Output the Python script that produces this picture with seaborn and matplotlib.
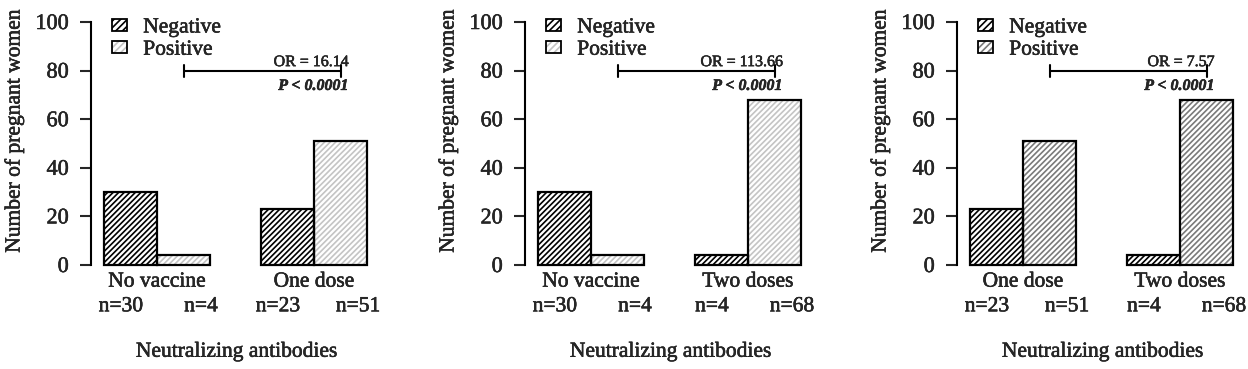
import matplotlib
matplotlib.use("Agg")
import matplotlib.pyplot as plt
import matplotlib.patheffects as pe
from matplotlib.patches import Rectangle, Patch
from matplotlib.text import Text
import seaborn as sns
import pandas as pd

# ---------------------------------------------------------------------------
# DATA
# ---------------------------------------------------------------------------
groups = [
    ["No vaccine", "One dose"],
    ["No vaccine", "Two doses"],
    ["One dose", "Two doses"],
]
negative = [[30, 23], [30, 4], [23, 4]]
positive = [[4, 51], [4, 68], [51, 68]]
odds_ratios = ["OR = 16.14", "OR = 113.66", "OR = 7.57"]
p_text = "P < 0.0001"
bracket_y = 80
statuses = ["Negative", "Positive"]
yticks = [0, 20, 40, 60, 80, 100]

# hatch colours (panel 3 positive bars are darker than in panels 1 and 2)
neg_hatch = ["black", "black", "black"]
pos_hatch = ["#c4c4c4", "#c4c4c4", "#7a7a7a"]

sns.set_style("white")
plt.rcParams["font.family"] = ["Liberation Serif", "DejaVu Serif"]
plt.rcParams["hatch.linewidth"] = 1.2

fig = plt.figure(figsize=(12.48, 3.69), dpi=100)
lefts = [91, 525, 957]
unit = 157.0
xmin, xmax = -0.42, 1.55
hatch = "//////"

for i in range(3):
    df = pd.DataFrame({
        "group": groups[i] * 2,
        "status": [statuses[0]] * 2 + [statuses[1]] * 2,
        "count": negative[i] + positive[i],
    })
    w = (xmax - xmin) * unit / 1248
    ax = fig.add_axes([lefts[i] / 1248, 104 / 369, w, 243 / 369])
    sns.barplot(data=df, x="group", y="count", hue="status", order=groups[i],
                hue_order=statuses, width=0.68, ax=ax, legend=False,
                palette=["white", "white"], saturation=1)

    # patches come hue by hue: neg g0, neg g1, pos g0, pos g1
    hatch_cols = [neg_hatch[i]] * 2 + [pos_hatch[i]] * 2
    offsets = [-0.06, -0.06, 0.11, 0.11]
    bars = [p for p in ax.patches if isinstance(p, Rectangle)][:4]
    for p, hc, off in zip(bars, hatch_cols, offsets):
        p.set_hatch(hatch)
        p.set_edgecolor(hc)
        p.set_linewidth(0)
        p.set_clip_on(False)
        ax.add_patch(Rectangle(p.get_xy(), p.get_width(), p.get_height(),
                               fill=False, edgecolor="black", lw=1.6,
                               clip_on=False, zorder=3))
        # n= labels under each bar
        ax.text(p.get_x() + p.get_width() / 2 + off, -0.172, f"n={int(p.get_height())}",
                transform=ax.get_xaxis_transform(), ha="center", va="center",
                fontsize=15.5)

    ax.set_xlim(xmin, xmax)
    ax.set_ylim(0, 100)
    ax.set_yticks(yticks)
    ax.tick_params(axis="y", left=True, length=8, width=1.5, labelsize=16, pad=8)
    ax.tick_params(axis="x", bottom=False, labelsize=15.5, pad=2)
    ax.set_xlabel("Neutralizing antibodies", fontsize=15.5)
    ax.xaxis.set_label_coords(0.47, -0.32)
    ax.set_ylabel("Number of pregnant women", fontsize=15.5)
    ax.yaxis.set_label_coords(-0.215, 0.55)
    sns.despine(ax=ax, bottom=True)
    ax.spines["left"].set_linewidth(1.5)
    ax.spines["left"].set_color("black")
    ax.spines["left"].set_bounds(0, 100)

    # OR bracket between the positive bars
    x0 = bars[2].get_x() + bars[2].get_width() / 2
    x1 = bars[3].get_x() + bars[3].get_width() / 2
    ax.plot([x0, x1], [bracket_y, bracket_y], color="black", lw=1.5)
    ax.plot([x0, x0], [bracket_y - 2.5, bracket_y + 2.5], color="black", lw=1.5)
    ax.plot([x1, x1], [bracket_y - 2.5, bracket_y + 2.5], color="black", lw=1.5)
    ax.text(x1 + 0.05, bracket_y + 3.5, odds_ratios[i], ha="right", va="center", fontsize=11.5)
    ax.text(x1 + 0.05, bracket_y - 6.3, p_text, ha="right", va="center", fontsize=11.5,
            fontweight="bold", fontstyle="italic")

    handles = []
    for hc in [neg_hatch[i], pos_hatch[i]]:
        handles.append((Patch(facecolor="white", edgecolor=hc, hatch="/////", lw=0),
                        Patch(facecolor="none", edgecolor="black", lw=1.3)))
    ax.legend(handles, statuses, loc="upper left", bbox_to_anchor=(0.04, 1.05),
              frameon=False, fontsize=15.5, handlelength=0.7, handleheight=0.5,
              handletextpad=0.75, labelspacing=0.15, borderaxespad=0)

# the scanned figure has heavy text rendering; thicken glyphs slightly
for t in fig.findobj(Text):
    if t.get_text():
        t.set_path_effects([pe.withStroke(linewidth=0.35, foreground="black")])

fig.savefig("out.png", dpi=100)
